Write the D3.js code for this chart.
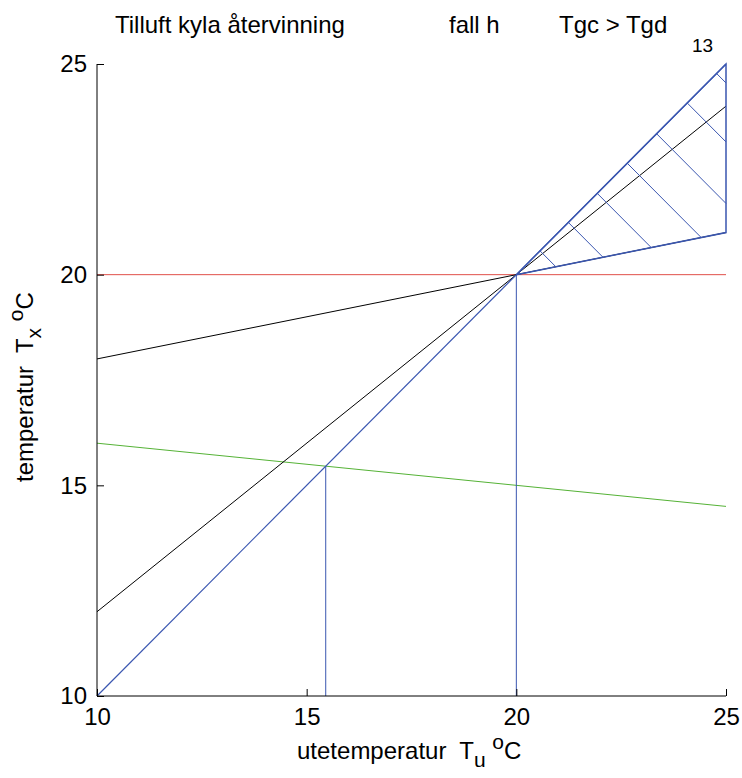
<!DOCTYPE html>
<html>
<head>
<meta charset="utf-8">
<script src="https://cdn.jsdelivr.net/npm/d3@7"></script>
<style>
  html, body { margin: 0; padding: 0; background: #fff; }
  svg { display: block; font-family: "Liberation Sans", Arial, sans-serif; }
  svg text { white-space: pre; }
</style>
</head>
<body>
<svg id="chart" width="742" height="778"></svg>
<script>
// ---- data ----
const xDomain = [10, 25];
const yDomain = [10, 25];
const xTicks = [10, 15, 20, 25];
const yTicks = [10, 15, 20, 25];

const refLineX = [10, 25];          // horizontal reference at 20 (red)
const refLineY = [20, 20];
const blackLowX = [10, 25];         // shallow black line
const blackLowY = [18, 21];
const blackSteepX = [10, 25];       // steep black line
const blackSteepY = [12, 24];
const blueDiagX = [10, 25];         // identity line
const blueDiagY = [10, 25];
const greenX = [10, 25];
const greenY = [16, 14.5];
const blueVert1X = [20, 20];
const blueVert1Y = [10, 20];
const blueVert2X = [15.4545, 15.4545];
const blueVert2Y = [10, 15.4545];
const hatchBoundX = [20, 25, 25, 20]; // hatched region outline
const hatchBoundY = [20, 25, 21, 20];
const hatchC = [41.13, 42.48, 43.86, 45.29, 46.69, 48.15, 49.55]; // x+y = c hatch lines

const titleParts = ["Tilluft kyla återvinning", "fall h", "Tgc > Tgd"];
const pageNo = "13";

// ---- layout ----
const svg = d3.select("#chart");
const L = 97, T = 64, R = 726, B = 696;
const x = d3.scaleLinear().domain(xDomain).range([L, R]);
const y = d3.scaleLinear().domain(yDomain).range([B, T]);

const blue = "#3a56b0", green = "#55b236", red = "#e0504a";

const line = d3.line().x(d => x(d[0])).y(d => y(d[1]));
function path(xs, ys, color, w) {
  svg.append("path")
    .attr("d", line(d3.zip(xs, ys)))
    .attr("fill", "none").attr("stroke", color).attr("stroke-width", w);
}

path(refLineX, refLineY, red, 1);
path(greenX, greenY, green, 1);
path(blueVert1X, blueVert1Y, blue, 1);
path(blueVert2X, blueVert2Y, blue, 1);
path(blackLowX, blackLowY, "#000", 1);
path(blackSteepX, blackSteepY, "#000", 1);
path(blueDiagX, blueDiagY, blue, 1.2);

hatchC.forEach(c => {
  const x0 = c / 2, y0 = c / 2;
  let x1 = (c - 16) / 1.2;
  let y1;
  if (x1 > 25) { x1 = 25; y1 = c - 25; } else { y1 = c - x1; }
  path([x0, x1], [y0, y1], blue, 1);
});
path(hatchBoundX, hatchBoundY, blue, 1.5);

// ---- axes ----
const fs = 24;
const xAxis = d3.axisBottom(x).tickValues(xTicks).tickSize(-7).tickPadding(12).tickFormat(d3.format("d"));
const yAxis = d3.axisLeft(y).tickValues(yTicks).tickSize(-7).tickPadding(10).tickFormat(d3.format("d"));

const gx = svg.append("g").attr("transform", `translate(0,${B})`).call(xAxis);
const gy = svg.append("g").attr("transform", `translate(${L},0)`).call(yAxis);
[gx, gy].forEach(g => {
  g.selectAll("text").attr("font-size", fs).attr("font-family", "Liberation Sans, Arial, sans-serif").attr("fill", "#000");
  g.selectAll(".tick line").attr("stroke", "#000");
  g.select(".domain").attr("stroke", "#000");
});
gx.select(".domain").attr("d", `M${L},0H${R}`);
gy.select(".domain").attr("d", `M0,${B}V${T}`);

// ---- titles ----
svg.append("text").attr("x", 115).attr("y", 33).attr("font-size", fs).text(titleParts[0]);
svg.append("text").attr("x", 449).attr("y", 33).attr("font-size", fs).text(titleParts[1]);
svg.append("text").attr("x", 559).attr("y", 33).attr("font-size", fs).text(titleParts[2]);
svg.append("text").attr("x", 692).attr("y", 52).attr("font-size", 19).text(pageNo);

// x label
const xl = svg.append("text").attr("x", 297).attr("y", 759).attr("font-size", fs);
xl.append("tspan").text("utetemperatur  T");
xl.append("tspan").attr("dy", 8).attr("font-size", 21).text("u");
xl.append("tspan").attr("dy", -8).text(" ");
xl.append("tspan").attr("dy", -10).attr("font-size", 21).text("o");
xl.append("tspan").attr("dy", 10).text("C");

// y label
const yl = svg.append("text").attr("transform", "translate(33,482) rotate(-90)").attr("font-size", fs);
yl.append("tspan").text("temperatur  T");
yl.append("tspan").attr("dy", 8).attr("font-size", 21).text("x");
yl.append("tspan").attr("dy", -8).text(" ");
yl.append("tspan").attr("dy", -10).attr("font-size", 21).text("o");
yl.append("tspan").attr("dy", 10).text("C");
</script>
</body>
</html>
